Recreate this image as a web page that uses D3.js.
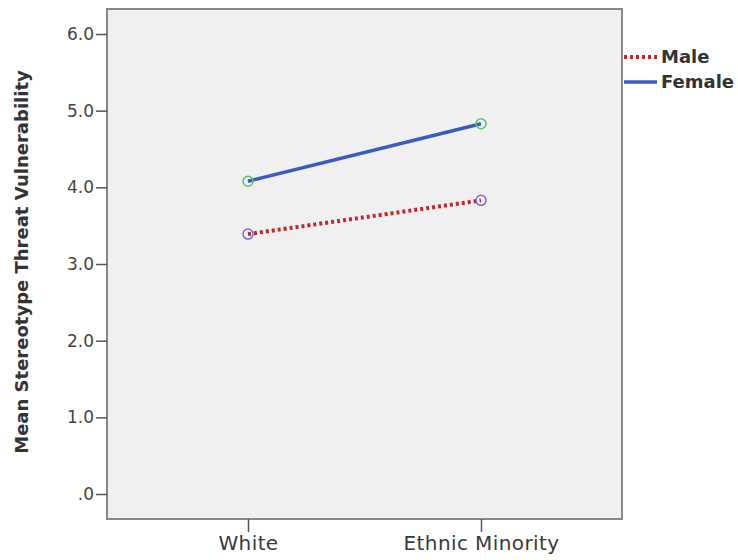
<!DOCTYPE html>
<html><head><meta charset="utf-8">
<script src="https://cdn.jsdelivr.net/npm/d3@7"></script>
<style>body{margin:0;background:#fff;} text{font-family:"DejaVu Sans",sans-serif;}</style>
</head><body>
<svg id="chart" width="738" height="560"></svg>
<script>
const categories = ["White", "Ethnic Minority"];
const seriesNames = ["Male", "Female"];
const maleValues = [3.39, 3.83];
const femaleValues = [4.08, 4.83];
const yTicks = [0, 1, 2, 3, 4, 5, 6];

const svg = d3.select("#chart");
const plot = {left: 107, right: 622, top: 9, bottom: 519};
const FONT = '"DejaVu Sans",sans-serif';

const x = d3.scalePoint().domain(categories).range([248, 481]);
const y = d3.scaleLinear().domain([0, 6]).range([494, 34]);

svg.append("rect").attr("x", plot.left).attr("y", plot.top)
  .attr("width", plot.right - plot.left).attr("height", plot.bottom - plot.top)
  .attr("fill", "#f0f0f0").attr("stroke", "#888").attr("stroke-width", 2);

const yAxis = svg.append("g").attr("transform", `translate(${plot.left},0)`)
  .call(d3.axisLeft(y).tickValues(yTicks).tickSize(11).tickPadding(2)
    .tickFormat(d => d === 0 ? ".0" : d3.format(".1f")(d)));
yAxis.select(".domain").remove();
yAxis.selectAll("line").attr("stroke", "#555").attr("stroke-width", 1.5);
yAxis.selectAll("text").attr("fill", "#444").style("font-size", "17px").style("font-family", FONT);

const xAxis = svg.append("g").attr("transform", `translate(0,${plot.bottom})`)
  .call(d3.axisBottom(x).tickSize(13).tickPadding(4));
xAxis.select(".domain").remove();
xAxis.selectAll("line").attr("stroke", "#555").attr("stroke-width", 1.5);
xAxis.selectAll("text").attr("fill", "#3a3a3a").style("font-size", "20px")
  .style("letter-spacing", "0.4px").style("font-family", FONT);

svg.append("text").attr("transform", "translate(22,262) rotate(-90)")
  .attr("text-anchor", "middle").attr("dy", "0.35em").attr("fill", "#333")
  .style("font-size", "18px").style("font-weight", "bold")
  .text("Mean Stereotype Threat Vulnerability");

const series = [
  {name: seriesNames[0], values: maleValues, color: "#c0282e", dash: "3,3", width: 4, marker: "#6f6fd9"},
  {name: seriesNames[1], values: femaleValues, color: "#3b5bbf", dash: null, width: 3.5, marker: "#5cc26a"}
];
const line = d3.line().x((d, i) => x(categories[i])).y(d => y(d));

series.forEach(s => {
  svg.append("path").datum(s.values).attr("d", line)
    .attr("fill", "none").attr("stroke", s.color).attr("stroke-width", s.width)
    .attr("stroke-dasharray", s.dash);
  svg.selectAll(null).data(s.values).enter().append("circle")
    .attr("cx", (d, i) => x(categories[i])).attr("cy", d => y(d)).attr("r", 5)
    .attr("fill", "none").attr("stroke", s.marker).attr("stroke-width", 1.5);
});

const legend = svg.append("g");
series.forEach((s, i) => {
  const ly = 57 + i * 25;
  legend.append("line").attr("x1", 624).attr("x2", 657).attr("y1", ly).attr("y2", ly)
    .attr("stroke", s.color).attr("stroke-width", s.width).attr("stroke-dasharray", s.dash);
  legend.append("text").attr("x", 661).attr("y", ly).attr("dy", "0.35em")
    .attr("fill", "#333").style("font-size", "18px").style("font-weight", "bold").text(s.name);
});
</script>
</body></html>
